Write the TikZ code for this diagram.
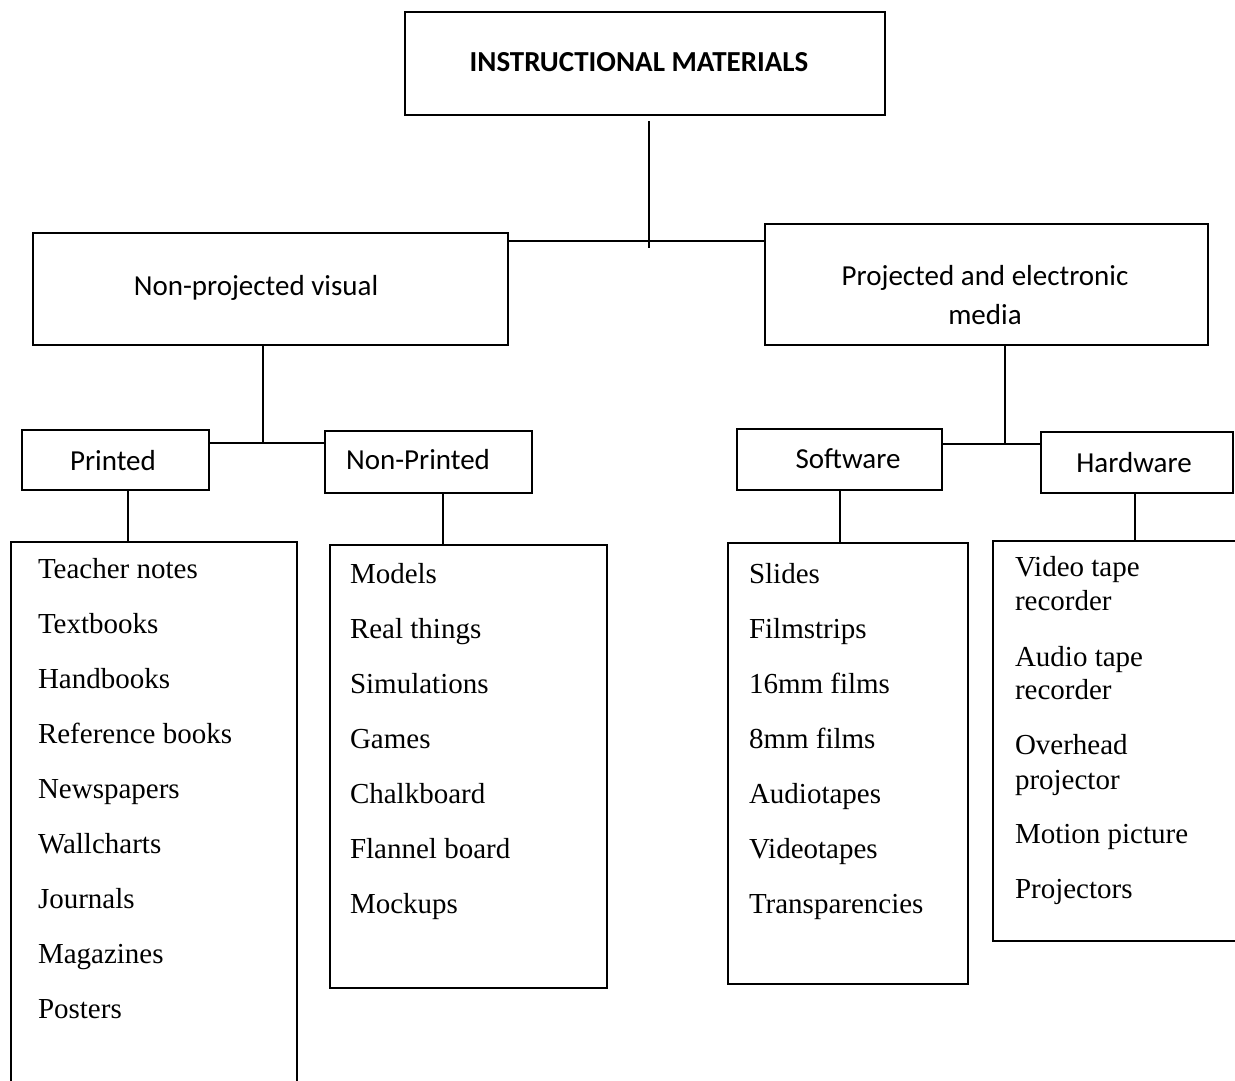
\documentclass[tikz,border=0pt]{standalone}
\usepackage{fontspec}
\setmainfont{Liberation Serif}
\newfontfamily\calfont{Carlito}
\begin{document}
\begin{tikzpicture}[x=1pt,y=-1pt,line width=2pt,
  box/.style={draw,rectangle,inner sep=0pt,line width=2pt},
  lbl/.style={inner sep=0pt,font=\calfont\fontsize{29}{39}\selectfont,align=center},
  item/.style={anchor=base west,inner sep=0pt,font=\fontsize{29}{34}\selectfont}]
\useasboundingbox (0,0) rectangle (1235,1080);
% top level
\node[box,minimum width=480,minimum height=103] (top) at (645,63.5) {};
\node[lbl,font=\calfont\bfseries\fontsize{29}{34}\selectfont] (toptxt) at (639,62) {INSTRUCTIONAL MATERIALS};
% second level
\node[box,minimum width=475,minimum height=112] (npv) at (270.5,289) {};
\node[lbl] (npvtxt) at (256,288) {Non-projected visual};
\node[box,minimum width=443,minimum height=121] (pem) at (986.5,284.5) {};
\node[lbl] (pemtxt) at (985,295) {Projected and electronic\\media};
% third level
\node[box,minimum width=187,minimum height=60] (printed) at (115.5,460) {};
\node[lbl] (printedtxt) at (113,461) {Printed};
\node[box,minimum width=207,minimum height=62] (nonprinted) at (428.5,462) {};
\node[lbl] (nonprintedtxt) at (418,460) {Non-Printed};
\node[box,minimum width=205,minimum height=61] (software) at (839.5,459.5) {};
\node[lbl] (softwaretxt) at (848,459) {Software};
\node[box,minimum width=192,minimum height=61] (hardware) at (1137,462.5) {};
\node[lbl] (hardwaretxt) at (1134,463) {Hardware};
% list boxes
\node[inner sep=0pt,minimum width=284,minimum height=537] (plist) at (154,811.5) {};
\draw (plist.south west) -- (plist.north west) -- (plist.north east) -- (plist.south east);
\node[box,minimum width=277,minimum height=443] (nplist) at (468.5,766.5) {};
\node[box,minimum width=240,minimum height=441] (swlist) at (848,763.5) {};
\node[inner sep=0pt,minimum width=241,minimum height=398] (hwlist) at (1114.5,741) {};
\draw (hwlist.north east) -- (hwlist.north west) -- (hwlist.south west) -- (hwlist.south east);
% connectors
\coordinate (j0) at (649,241);
\coordinate (j1) at (263,443);
\coordinate (j2) at (1005,444);
\coordinate (c1) at (128,0);
\coordinate (c2) at (443,0);
\coordinate (c3) at (840,0);
\coordinate (c4) at (1135,0);
\draw ([yshift=-5pt]top.south -| j0) -- ([yshift=-7pt]j0);
\draw (npv.east |- j0) -- (pem.west |- j0);
\draw (npv.south -| j1) -- (j1);
\draw (printed.east |- j1) -- (nonprinted.west |- j1);
\draw (pem.south -| j2) -- (j2);
\draw (software.east |- j2) -- (hardware.west |- j2);
\draw (printed.south -| c1) -- (plist.north -| c1);
\draw (nonprinted.south -| c2) -- (nplist.north -| c2);
\draw (software.south -| c3) -- (swlist.north -| c3);
\draw (hardware.south -| c4) -- (hwlist.north -| c4);
% list items
\foreach \t [count=\i] in {Teacher notes,Textbooks,Handbooks,Reference books,Newspapers,Wallcharts,Journals,Magazines,Posters}
  \node[item] (p\i) at (37,{523+55.1*\i}) {\t};
\foreach \t [count=\i] in {Models,Real things,Simulations,Games,Chalkboard,Flannel board,Mockups}
  \node[item] (n\i) at (349,{528+55*\i}) {\t};
\foreach \t [count=\i] in {Slides,Filmstrips,16mm films,8mm films,Audiotapes,Videotapes,Transparencies}
  \node[item] (s\i) at (748,{528+55*\i}) {\t};
\node[item] (h1) at (1014,576) {Video tape};
\node[item] (h2) at (1014,610) {recorder};
\node[item] (h3) at (1014,666) {Audio tape};
\node[item] (h4) at (1014,699) {recorder};
\node[item] (h5) at (1014,754) {Overhead};
\node[item] (h6) at (1014,789) {projector};
\node[item] (h7) at (1014,843) {Motion picture};
\node[item] (h8) at (1014,898) {Projectors};
\end{tikzpicture}
\end{document}
